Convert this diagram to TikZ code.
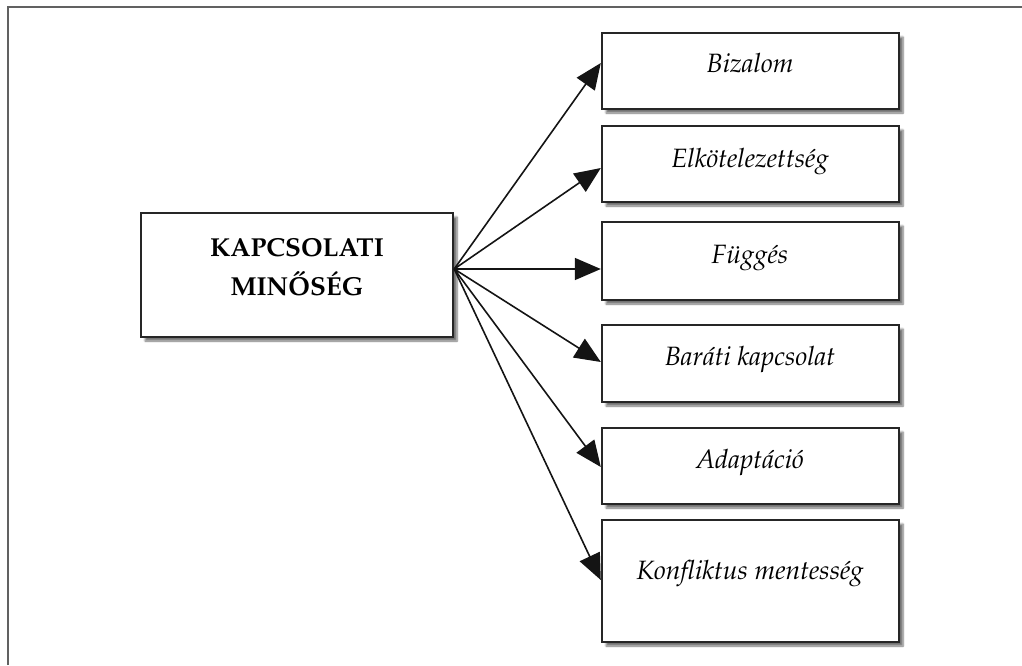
\documentclass[tikz,border=0pt]{standalone}
\usepackage[T1]{fontenc}
\usepackage{mathpazo}
\usetikzlibrary{arrows.meta,shadows.blur}
\tikzset{
  frameline/.style={draw=black!62, line width=2pt},
  box/.style={draw=black!85, line width=2.4pt, fill=white, inner sep=0pt,
    blur shadow={shadow xshift=4pt, shadow yshift=-4pt, shadow opacity=55, shadow blur steps=6}},
  lbl/.style={inner sep=0pt, anchor=base, font=\fontsize{26.5}{32}\selectfont\itshape},
  title/.style={inner sep=0pt, align=center, font=\fontsize{26}{39}\selectfont\bfseries},
  conn/.style={draw=black!92, line width=1.6pt, -{Triangle[length=26pt,width=22pt]}}
}
\begin{document}
\begin{tikzpicture}[x=1pt,y=-1pt]
\useasboundingbox (0,0) rectangle (1022,665);
% outer frame (top and left)
\coordinate (fa) at (8,665);
\coordinate (fb) at (8,7);
\coordinate (fc) at (1022,7);
\draw[frameline] (fa) -- (fb) -- (fc);
% main box
\node[box, minimum width=312pt, minimum height=124pt] (main) at (297,275) {};
\node[title] (mt) at (297,267) {KAPCSOLATI\\MIN\H{O}S\'EG};
% right boxes
\node[box, minimum width=297pt, minimum height=76pt] (b1) at (750.5,71) {};
\node[box, minimum width=297pt, minimum height=76pt] (b2) at (750.5,164) {};
\node[box, minimum width=297pt, minimum height=78pt] (b3) at (750.5,261) {};
\node[box, minimum width=297pt, minimum height=77pt] (b4) at (750.5,363.5) {};
\node[box, minimum width=297pt, minimum height=76pt] (b5) at (750.5,466) {};
\node[box, minimum width=297pt, minimum height=122pt] (b6) at (750.5,581) {};
\node[lbl] (t1) at (750,72) {Bizalom};
\node[lbl] (t2) at (750,167) {Elk\"otelezetts\'eg};
\node[lbl] (t3) at (750,263) {F\"ugg\'es};
\node[lbl] (t4) at (750,365) {Bar\'ati kapcsolat};
\node[lbl] (t5) at (750,468) {Adapt\'aci\'o};
\node[lbl] (t6) at (750,579) {Konfliktus mentess\'eg};
% connectors
\coordinate (s) at (main.east |- 0,269);
\coordinate (e1) at (b1.west |- 0,63);
\coordinate (e2) at (b2.west |- 0,168);
\coordinate (e3) at (b3.west |- 0,269);
\coordinate (e4) at (b4.west |- 0,362);
\coordinate (e5) at (b5.west |- 0,467);
\coordinate (e6) at (b6.west |- 0,580);
\foreach \e in {e1,e2,e3,e4,e5,e6}{
  \draw[conn] (s) -- (\e);
}
\end{tikzpicture}
\end{document}
